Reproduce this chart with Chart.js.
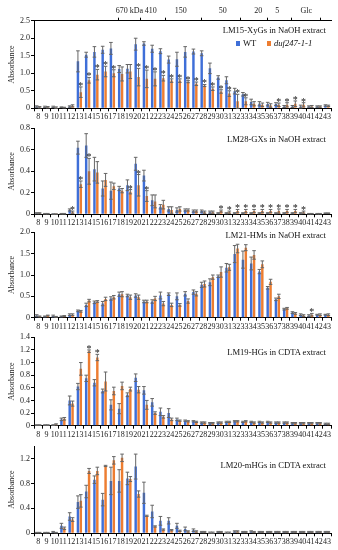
<!DOCTYPE html>
<html><head><meta charset="utf-8">
<script src="https://cdn.jsdelivr.net/npm/chart.js@4/dist/chart.umd.min.js"></script>
<style>
html,body{margin:0;padding:0;background:#fff;}
#wrap{position:relative;width:338px;height:550px;overflow:hidden;font-family:"Liberation Serif","Times New Roman",serif;color:#111;}
canvas{position:absolute;left:0;}
.ttl{position:absolute;right:12px;font-size:8.6px;line-height:9px;white-space:nowrap;}
.lg{position:absolute;font-size:8.6px;line-height:9px;white-space:nowrap;}
.sq{position:absolute;width:4px;height:5px;}
</style></head><body>
<div id="wrap">
<canvas id="c1"></canvas><canvas id="c2"></canvas><canvas id="c3"></canvas><canvas id="c4"></canvas><canvas id="c5"></canvas>
<div class="ttl" style="top:26px">LM15-XyGs in NaOH extract</div>
<div class="sq" style="left:236px;top:41px;background:#3f6fd8"></div><div class="lg" style="left:243px;top:39px">WT</div>
<div class="sq" style="left:267px;top:41px;background:#ed7d31"></div><div class="lg" style="left:274px;top:39px;font-style:italic">duf247-1-1</div>
<div class="ttl" style="top:135px">LM28-GXs in NaOH extract</div>
<div class="ttl" style="top:230.5px">LM21-HMs in NaOH extract</div>
<div class="ttl" style="top:348px">LM19-HGs in CDTA extract</div>
<div class="ttl" style="top:460.5px">LM20-mHGs in CDTA extract</div>
</div>
<script>
// ---- data ----
const fractions = ['8','9','10','11','12','13','14','15','16','17','18','19','20','21','22','23','24','25','26','27','28','29','30','31','32','33','34','35','36','37','38','39','40','41','42','43'];
const topMarkerPos = [18, 21, 25.25, 31.2, 36.2, 38.9, 43];
const topMarkerLabels = ['670 kDa','410','150','50','20','5','Glc'];

// LM15-XyGs in NaOH extract
const xygWT  = [0.05,0.04,0.04,0.03,0.05, 1.34,1.53,1.61,1.67,1.71, 1.12,1.13,1.83,1.85,1.7, 1.63,1.39,1.4,1.61,1.62, 1.57,1.14,0.88,0.8,0.49, 0.4,0.18,0.13,0.12,0.12, 0.05,0.05,0.05,0.05,0.05,0.08];
const xygDuf = [0.03,0.03,0.02,0.02,0.07, 0.46,0.8,0.96,1.05,1.0, 0.98,1.05,0.89,0.84,0.84, 0.86,0.79,0.79,0.76,0.7, 0.65,0.56,0.48,0.42,0.2, 0.2,0.13,0.1,0.08,0.1, 0.1,0.13,0.1,0.05,0.05,0.07];
const xygWTErr  = [0.02,0.02,0.02,0.01,0.02, 0.3,0.07,0.15,0.1,0.17, 0.1,0.12,0.17,0.05,0.1, 0.07,0.1,0.2,0.15,0.07, 0.07,0.15,0.05,0.1,0.08, 0.05,0.08,0.06,0.05,0.04, 0.03,0.03,0.04,0.02,0.02,0.02];
const xygDufErr = [0.02,0.02,0.02,0.01,0.03, 0.15,0.08,0.15,0.15,0.1, 0.2,0.2,0.25,0.25,0.2, 0.08,0.05,0.05,0.03,0.05, 0.03,0.05,0.05,0.08,0.2, 0.1,0.06,0.05,0.05,0.05, 0.06,0.08,0.06,0.03,0.02,0.02];
const xygStars = [13,14,15,16,17,20,21,22,23,24,25,26,27,28,29,30,31,32,33,37,38,39,40];

// LM28-GXs in NaOH extract
const gxWT  = [0.01,0.005,0.002,0.005,0.04, 0.62,0.64,0.42,0.24,0.22, 0.24,0.27,0.47,0.36,0.13, 0.07,0.05,0.04,0.04,0.03, 0.03,0.02,0.01,0.01,0.01, 0.01,0.01,0.01,0.01,0.01, 0.01,0.01,0.01,0.005,0.005,0.01];
const gxDuf = [0.01,0.005,0.002,0.005,0.02, 0.28,0.4,0.39,0.32,0.26, 0.22,0.21,0.27,0.17,0.12, 0.09,0.04,0.05,0.04,0.03, 0.02,0.02,0.03,0.02,0.03, 0.03,0.03,0.03,0.03,0.03, 0.03,0.03,0.02,0.005,0.005,0.01];
const gxWTErr  = [0.005,0.003,0.002,0.003,0.01, 0.06,0.11,0.11,0.07,0.08, 0.02,0.05,0.06,0.05,0.05, 0.02,0.02,0.02,0.01,0.01, 0.01,0.01,0.005,0.005,0.005, 0.005,0.005,0.005,0.005,0.005, 0.005,0.005,0.005,0.003,0.003,0.003];
const gxDufErr = [0.005,0.003,0.002,0.003,0.01, 0.03,0.12,0.1,0.06,0.03, 0.02,0.02,0.1,0.05,0.06, 0.04,0.03,0.02,0.01,0.01, 0.01,0.01,0.01,0.01,0.015, 0.015,0.015,0.015,0.015,0.02, 0.015,0.015,0.01,0.003,0.003,0.003];
const gxStars = [12,13,14,19,20,21,30,31,32,33,34,35,36,37,38,39,40];

// LM21-HMs in NaOH extract
const hmWT  = [0.05,0.03,0.04,0.03,0.07, 0.16,0.3,0.36,0.33,0.45, 0.55,0.52,0.52,0.38,0.38, 0.52,0.55,0.5,0.56,0.6, 0.77,0.83,0.97,1.17,1.49, 1.36,1.27,1.08,0.7,0.43, 0.2,0.12,0.07,0.05,0.07,0.07];
const hmDuf = [0.03,0.05,0.02,0.04,0.07, 0.15,0.4,0.38,0.44,0.48, 0.55,0.48,0.48,0.38,0.45, 0.33,0.3,0.3,0.39,0.56, 0.79,0.95,1.07,1.18,1.62, 1.64,1.47,1.25,0.84,0.5, 0.22,0.1,0.05,0.07,0.07,0.07];
const hmWTErr  = [0.02,0.01,0.02,0.01,0.02, 0.02,0.04,0.03,0.05,0.04, 0.05,0.03,0.04,0.03,0.04, 0.08,0.03,0.08,0.05,0.05, 0.06,0.08,0.03,0.1,0.2, 0.2,0.15,0.05,0.03,0.03, 0.02,0.02,0.02,0.02,0.01,0.01];
const hmDufErr = [0.01,0.01,0.01,0.01,0.02, 0.02,0.03,0.02,0.04,0.04, 0.06,0.05,0.05,0.03,0.05, 0.05,0.04,0.03,0.05,0.05, 0.07,0.05,0.12,0.07,0.1, 0.07,0.1,0.08,0.06,0.05, 0.02,0.02,0.02,0.03,0.02,0.02];
const hmStars = [41];

// LM19-HGs in CDTA extract
const hgWT  = [0.01,0.01,0.01,0.1,0.4, 0.62,0.75,0.68,0.55,0.33, 0.27,0.49,0.76,0.56,0.37, 0.22,0.2,0.1,0.08,0.07, 0.05,0.04,0.05,0.06,0.07, 0.06,0.06,0.06,0.06,0.05, 0.05,0.04,0.04,0.04,0.04,0.03];
const hgDuf = [0.01,0.01,0.02,0.11,0.35, 0.9,1.18,1.08,0.7,0.55, 0.63,0.58,0.57,0.33,0.2, 0.14,0.1,0.08,0.07,0.06, 0.05,0.04,0.05,0.06,0.07, 0.07,0.05,0.05,0.05,0.05, 0.05,0.04,0.04,0.04,0.04,0.03];
const hgWTErr  = [0.005,0.005,0.005,0.02,0.07, 0.05,0.05,0.05,0.03,0.08, 0.08,0.03,0.06,0.06,0.06, 0.06,0.07,0.02,0.01,0.01, 0.01,0.01,0.01,0.01,0.01, 0.01,0.01,0.01,0.01,0.01, 0.01,0.01,0.01,0.01,0.01,0.01];
const hgDufErr = [0.005,0.005,0.01,0.02,0.04, 0.1,0.02,0.05,0.15,0.06, 0.06,0.03,0.05,0.07,0.02, 0.02,0.02,0.01,0.01,0.01, 0.01,0.01,0.01,0.01,0.01, 0.01,0.01,0.01,0.01,0.01, 0.01,0.01,0.01,0.01,0.01,0.01];
const hgStars = [14,15];

// LM20-mHGs in CDTA extract
const mhgWT  = [0.01,0.01,0.02,0.12,0.27, 0.5,0.67,0.86,0.54,0.84, 0.84,0.88,1.07,0.65,0.35, 0.2,0.2,0.12,0.07,0.05, 0.02,0.01,0.02,0.01,0.03, 0.02,0.03,0.02,0.02,0.02, 0.02,0.02,0.02,0.02,0.02,0.02];
const mhgDuf = [0.01,0.01,0.01,0.08,0.22, 0.52,1.0,1.0,1.08,1.17, 1.21,0.87,0.63,0.28,0.11, 0.06,0.05,0.04,0.03,0.03, 0.02,0.01,0.02,0.01,0.03, 0.02,0.02,0.02,0.02,0.02, 0.02,0.02,0.02,0.02,0.02,0.02];
const mhgWTErr  = [0.005,0.005,0.01,0.04,0.06, 0.1,0.1,0.06,0.1,0.22, 0.18,0.1,0.2,0.17,0.1, 0.07,0.05,0.04,0.03,0.02, 0.01,0.01,0.01,0.01,0.01, 0.01,0.01,0.01,0.01,0.01, 0.01,0.01,0.01,0.01,0.01,0.01];
const mhgDufErr = [0.005,0.005,0.005,0.02,0.03, 0.1,0.04,0.06,0.01,0.06, 0.06,0.04,0.05,0.01,0.01, 0.01,0.01,0.01,0.01,0.01, 0.01,0.01,0.01,0.01,0.01, 0.01,0.01,0.01,0.01,0.01, 0.01,0.01,0.01,0.01,0.01,0.01];
const mhgStars = [];

// ---- drawing ----
Chart.defaults.font.family = "'Liberation Serif','Times New Roman',serif";
Chart.defaults.color = '#222';
const BLUE = '#3f6fd8', ORANGE = '#ed7d31';

const errPlugin = {
  id: 'errbars',
  afterDatasetsDraw(chart, args, opts) {
    const ctx = chart.ctx, ys = chart.scales.y;
    ctx.save();
    const tops = [];
    chart.data.datasets.forEach((ds, di) => {
      const meta = chart.getDatasetMeta(di);
      meta.data.forEach((bar, i) => {
        const v = ds.data[i], e = ds.errors[i];
        const x = bar.x;
        const yt = ys.getPixelForValue(v + e), yb = ys.getPixelForValue(Math.max(v - e, 0));
        ctx.strokeStyle = '#666'; ctx.lineWidth = 1;
        ctx.beginPath();
        ctx.moveTo(x, yt); ctx.lineTo(x, yb);
        ctx.moveTo(x - 1.8, yt); ctx.lineTo(x + 1.8, yt);
        ctx.moveTo(x - 1.8, yb); ctx.lineTo(x + 1.8, yb);
        ctx.stroke();
        if (di === 1) tops[i] = {x, yt};
      });
    });
    ctx.fillStyle = '#111';
    ctx.font = "10px 'Liberation Serif'";
    ctx.textAlign = 'center'; ctx.textBaseline = 'alphabetic';
    (opts.stars || []).forEach(f => {
      const i = fractions.indexOf(String(f));
      if (i < 0 || !tops[i]) return;
      ctx.fillText('*', tops[i].x, tops[i].yt + 2);
    });
    ctx.restore();
  }
};

function makePanel(id, canvasTop, chartTop, zero, wt, duf, wtErr, dufErr, stars, yMax, yStep, withTop) {
  const H = Math.ceil(zero - canvasTop + 14);
  const cv = document.getElementById(id);
  cv.style.top = canvasTop + 'px';
  cv.width = 338; cv.height = H;
  cv.style.width = '338px'; cv.style.height = H + 'px';
  const xAxisH = H - (zero - canvasTop);
  const scales = {
    x: {
      type: 'category', offset: true,
      grid: {display: true, drawOnChartArea: false, tickLength: 3, color: '#000', offset: true},
      border: {display: true, color: '#000', width: 1},
      ticks: {autoSkip: false, maxRotation: 0, minRotation: 0, padding: 1, font: {size: 8}, color: '#222'},
      afterFit: s => { s.height = xAxisH; }
    },
    y: {
      min: 0, max: yMax,
      ticks: {stepSize: yStep, padding: 1, font: {size: 8}, color: '#222'},
      grid: {display: true, drawOnChartArea: false, tickLength: 3, color: '#000'},
      border: {display: true, color: '#000', width: 1},
      title: {display: true, text: 'Absorbance', font: {size: 8}, color: '#222', padding: {top: 7, bottom: 0}},
      afterFit: s => { s.width = 34; }
    }
  };
  if (withTop) {
    scales.xTop = {
      type: 'linear', position: 'top', min: 7.5, max: 43.5,
      grid: {display: true, drawOnChartArea: false, tickLength: 3, color: '#000'},
      border: {display: true, color: '#000', width: 1},
      ticks: {autoSkip: false, maxRotation: 0, padding: 2, font: {size: 8}, color: '#222',
        callback: (v, i) => topMarkerLabels[i]},
      afterBuildTicks: s => { s.ticks = topMarkerPos.map(v => ({value: v})); },
      afterFit: s => { s.height = chartTop - canvasTop; }
    };
  }
  new Chart(cv, {
    type: 'bar',
    data: {
      labels: fractions,
      datasets: [
        {label: 'WT', data: wt, errors: wtErr, backgroundColor: BLUE, categoryPercentage: 0.7, barPercentage: 0.85},
        {label: 'duf247-1-1', data: duf, errors: dufErr, backgroundColor: ORANGE, categoryPercentage: 0.7, barPercentage: 0.85}
      ]
    },
    options: {
      responsive: false, animation: false, devicePixelRatio: 1,
      layout: {padding: {top: withTop ? 0 : chartTop - canvasTop, right: 7, bottom: 0, left: 0}},
      plugins: {legend: {display: false}, tooltip: {enabled: false}, errbars: {stars}},
      scales
    },
    plugins: [errPlugin]
  });
}

makePanel('c1', 0, 20.7, 108.3, xygWT, xygDuf, xygWTErr, xygDufErr, xygStars, 2.5, 0.5, true);
makePanel('c2', 118, 128.3, 214.3, gxWT, gxDuf, gxWTErr, gxDufErr, gxStars, 0.8, 0.1, false);
makePanel('c3', 222, 232.3, 317.7, hmWT, hmDuf, hmWTErr, hmDufErr, hmStars, 2, 0.5, false);
makePanel('c4', 327, 337.3, 425.7, hgWT, hgDuf, hgWTErr, hgDufErr, hgStars, 1.4, 0.2, false);
makePanel('c5', 436, 446, 533.3, mhgWT, mhgDuf, mhgWTErr, mhgDufErr, mhgStars, 1.4, 0.2, false);
</script>
</body></html>
